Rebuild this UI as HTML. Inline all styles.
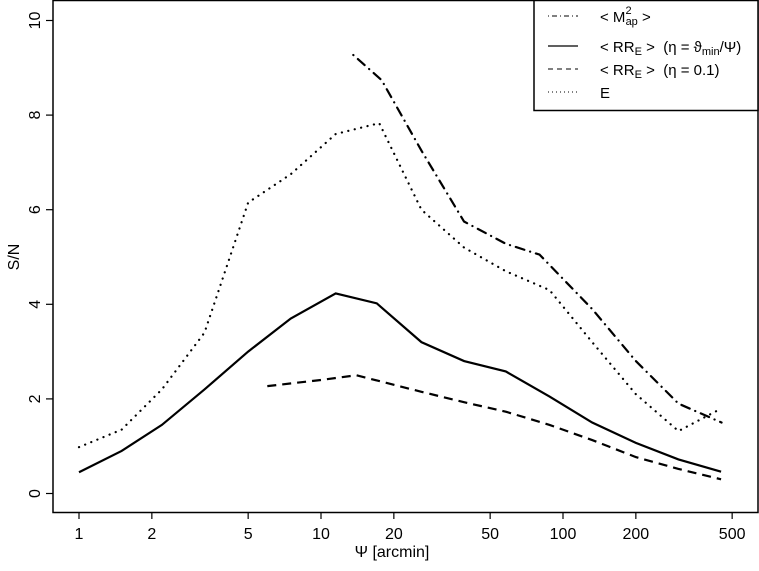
<!DOCTYPE html>
<html><head><meta charset="utf-8"><style>
body{margin:0;background:#fff}
svg{display:block;font-family:"Liberation Sans",sans-serif}
text{white-space:pre}
</style></head><body>
<svg id="chart" width="759" height="571">
<rect x="53" y="0.5" width="705" height="512" fill="none" stroke="#000" stroke-width="1.5"/>
<g id="axes"></g>
<g id="series"></g>
<g>
<rect x="534" y="0.5" width="224" height="110" fill="#fff" stroke="#000" stroke-width="1.5"/>
<g>
<line x1="548" y1="16" x2="578" y2="16" stroke="#000" stroke-width="1" stroke-dasharray="1,3,5,3"/>
<text x="600" y="22" font-size="15">&lt; M<tspan font-size="11" dy="-8">2</tspan><tspan font-size="11" dx="-6" dy="11">ap</tspan><tspan dy="-3"> &gt;</tspan></text>
</g>
<g>
<line x1="548" y1="46" x2="578" y2="46" stroke="#000" stroke-width="1.2"/>
<text x="600" y="52" font-size="15">&lt; RR<tspan font-size="11" dy="3">E</tspan><tspan dy="-3"> &gt;  (η = ϑ</tspan><tspan font-size="11" dy="3">min</tspan><tspan dy="-3">/Ψ)</tspan></text>
</g>
<g>
<line x1="548" y1="69" x2="578" y2="69" stroke="#000" stroke-width="1" stroke-dasharray="5,4"/>
<text x="600" y="75" font-size="15">&lt; RR<tspan font-size="11" dy="3">E</tspan><tspan dy="-3"> &gt;  (η = 0.1)</tspan></text>
</g>
<g>
<line x1="548" y1="92" x2="578" y2="92" stroke="#000" stroke-width="1" stroke-dasharray="1,3"/>
<text x="600" y="98" font-size="15">E</text>
</g>
</g>
<text x="392" y="557" font-size="16" text-anchor="middle">Ψ [arcmin]</text>
<text transform="translate(19,257) rotate(-90)" font-size="16" text-anchor="middle">S/N</text>
</svg>
<script>
const xTicks=[1,2,5,10,20,50,100,200,500];
const yTicks=[0,2,4,6,8,10];
const solidX=[1,1.5,2.2,3.3,5,7.5,11.5,17,26,39,58,88,132,200,300,450];
const solidY=[0.45,0.9,1.45,2.2,3.0,3.7,4.23,4.02,3.2,2.8,2.58,2.05,1.5,1.07,0.72,0.46];
const dashX=[6,10,14,26,39,58,88,132,200,300,450];
const dashY=[2.27,2.4,2.5,2.15,1.93,1.73,1.45,1.13,0.77,0.52,0.3];
const dotX=[1,1.5,2.2,3.3,5,7.5,11.5,17.4,26,39,58,88,132,200,300,452];
const dotY=[0.98,1.35,2.2,3.4,6.15,6.75,7.6,7.83,6.0,5.2,4.7,4.3,3.2,2.1,1.32,1.8];
const mapX=[13.6,17.8,26,39,58,80,132,200,300,452];
const mapY=[9.27,8.74,7.25,5.75,5.28,5.05,3.9,2.8,1.9,1.5];
const NS='http://www.w3.org/2000/svg';
function sx(v){return 79+Math.log10(v)*242;}
function sy(v){return 493.5-v*47.3;}
const axes=document.getElementById('axes'),ser=document.getElementById('series');
function mk(t,a,p){const e=document.createElementNS(NS,t);for(const k in a)e.setAttribute(k,a[k]);p.appendChild(e);return e;}
xTicks.forEach(v=>{
  const l=mk('line',{x1:sx(v),x2:sx(v),y1:512,y2:519,stroke:'#000','stroke-width':1.2},axes);
  
  
  const t=mk('text',{x:sx(v),y:539,'font-size':16,'text-anchor':'middle'},axes);t.textContent=v;
  
  
});
yTicks.forEach(v=>{
  const l=mk('line',{x1:46,x2:53,y1:sy(v),y2:sy(v),stroke:'#000','stroke-width':1.2},axes);
  
  
  const t=mk('text',{transform:`translate(40,${sy(v)}) rotate(-90)`,'font-size':16,'text-anchor':'middle'},axes);t.textContent=v;
  
  
});
function line(xs,ys,dash,name,cap){
  const p=mk('polyline',{points:xs.map((x,i)=>sx(x)+','+sy(ys[i])).join(' '),fill:'none',stroke:'#000','stroke-width':2.2,'stroke-dasharray':dash,'stroke-linecap':cap||'butt'},ser);
  
  
}
line(solidX,solidY,'none','series-rre-eta-var');
line(dashX,dashY,'9,6','series-rre-eta-0.1');
line(dotX,dotY,'0.1,6.5','series-e','round');
line(mapX,mapY,'0.1,6,9,6','series-map2','round');
</script>
</body></html>
